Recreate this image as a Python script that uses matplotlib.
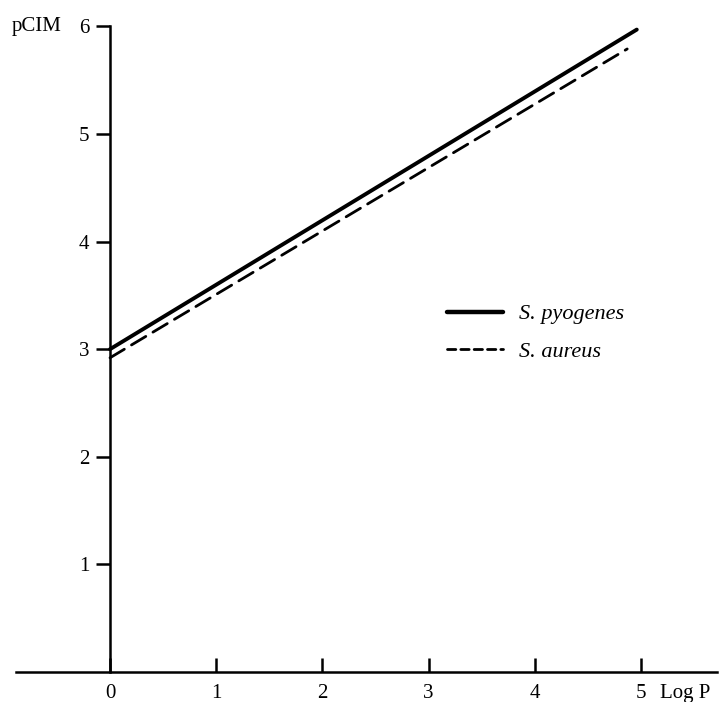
import matplotlib
matplotlib.use("Agg")
import matplotlib.pyplot as plt

# values
log_p = [0, 4.96]
pcim_pyogenes = [3.0, 5.97]
log_p_aureus = [0, 4.87]
pcim_aureus = [2.92, 5.79]

x_ticks = [0, 1, 2, 3, 4, 5]
y_ticks = [1, 2, 3, 4, 5, 6]

plt.rcParams["font.family"] = ["Liberation Serif", "DejaVu Serif"]

fig = plt.figure(figsize=(7.28, 7.02), dpi=100)
ax = fig.add_axes([0, 0, 1, 1])

ax.plot(log_p, pcim_pyogenes, color="black", lw=2.8, solid_capstyle="round",
        label="S. pyogenes")
ax.plot(log_p_aureus, pcim_aureus, color="black", lw=2.0, dashes=(6, 3),
        dash_capstyle="round", label="S. aureus")

ax.set_xlim(-1.036, 5.819)
ax.set_ylim(-0.279, 6.245)

for side in ["top", "right"]:
    ax.spines[side].set_visible(False)
ax.spines["left"].set_position(("data", 0))
ax.spines["bottom"].set_position(("data", 0))
ax.spines["left"].set_bounds(0, 6)
ax.spines["bottom"].set_bounds(-0.885, 5.716)
ax.spines["left"].set_linewidth(1.8)
ax.spines["bottom"].set_linewidth(1.8)

ax.set_xticks(x_ticks)
ax.set_yticks(y_ticks)
ax.set_xticklabels([str(v) for v in x_ticks])
ax.set_yticklabels([str(v) for v in y_ticks])
ax.tick_params(axis="x", direction="in", length=10, width=1.8, pad=9, labelsize=15)
ax.tick_params(axis="y", direction="out", length=10, width=1.8, pad=5, labelsize=15)

ax.text(-0.69, 6.0, "pCIM", fontsize=15, ha="center", va="center")
ax.text(5.18, -0.2, "Log P", fontsize=15, ha="left", va="center")

leg = ax.legend(loc="center left", bbox_to_anchor=(0.614, 0.526), frameon=False,
                borderpad=0, borderaxespad=0, handlelength=2.5, handletextpad=0.72,
                labelspacing=0.75, prop={"style": "italic", "size": 16})
leg.get_lines()[0].set_linewidth(3.2)
leg.get_lines()[1].set_dashes((3, 1.8))

fig.savefig("out.png", dpi=100)
